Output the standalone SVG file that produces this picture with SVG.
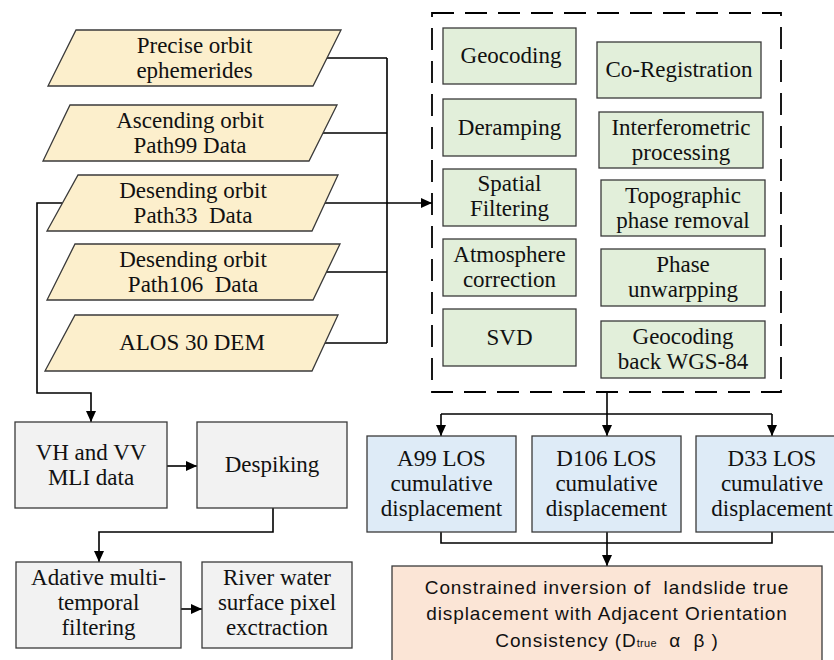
<svg xmlns="http://www.w3.org/2000/svg" width="834" height="660" viewBox="0 0 834 660">
<defs>
<marker id="ah" markerWidth="11" markerHeight="10" refX="11" refY="5" orient="auto" markerUnits="userSpaceOnUse">
<path d="M0,0 L11,5 L0,10 z" fill="#000"/>
</marker>
<style>
.t{font-family:"Liberation Serif","Times New Roman",serif;font-size:23px;fill:#111;text-anchor:middle}
.s{font-family:"Liberation Sans",Arial,sans-serif;font-size:19px;letter-spacing:0.9px;fill:#111;text-anchor:middle}
.par{fill:#FCEFCC;stroke:#3a3a3a;stroke-width:1.3}
.grn{fill:#E2EFDA;stroke:#3a3a3a;stroke-width:1.3}
.gry{fill:#F2F2F2;stroke:#3a3a3a;stroke-width:1.3}
.blu{fill:#DEEBF7;stroke:#3a3a3a;stroke-width:1.3}
.org{fill:#FBE5D6;stroke:#3a3a3a;stroke-width:1.3}
.c{fill:none;stroke:#000;stroke-width:1.6}
.a{fill:none;stroke:#000;stroke-width:1.6;marker-end:url(#ah)}
</style>
</defs>
<rect width="834" height="660" fill="#fff"/>

<g id="processing-box">
<rect x="432" y="13" width="349" height="379" fill="none" stroke="#000" stroke-width="1.8" stroke-dasharray="22,11"/>
</g>

<g id="connectors">
<path class="c" d="M327,58 H387 M323,133 H387 M326,272 H387 M325,343 H387 M387,58 V343"/>
<path class="a" d="M325,203 H432"/>
<path class="a" d="M62,203 H37 V393 H91 V422"/>
<path class="a" d="M167,466 H197"/>
<path class="a" d="M273,508 V532 H99 V562"/>
<path class="a" d="M181,609 H202"/>
<path class="a" d="M607,392 V436"/>
<path class="c" d="M441,414 H772"/>
<path class="a" d="M441,414 V436"/>
<path class="a" d="M772,414 V436"/>
<path class="c" d="M441,532 V543 H772 V532"/>
<path class="a" d="M607,532 V566"/>
</g>

<g id="n-precise">
<polygon class="par" points="76,30 341,30 313,86 48,86"/>
<text class="t" x="194.5" y="52.5">Precise orbit</text>
<text class="t" x="194.5" y="77.5">ephemerides</text>
</g>
<g id="n-path99">
<polygon class="par" points="70,105 337,105 309,161 43,161"/>
<text class="t" x="190" y="127.5">Ascending orbit</text>
<text class="t" x="190" y="152.5">Path99 Data</text>
</g>
<g id="n-path33">
<polygon class="par" points="78,175 338,175 312,231 47,231"/>
<text class="t" x="193" y="197.5">Desending orbit</text>
<text class="t" x="193" y="222.5" xml:space="preserve">Path33  Data</text>
</g>
<g id="n-path106">
<polygon class="par" points="75,244 340,244 313,300 47,300"/>
<text class="t" x="193" y="266.5">Desending orbit</text>
<text class="t" x="193" y="291.5" xml:space="preserve">Path106  Data</text>
</g>
<g id="n-dem">
<polygon class="par" points="75,315 338,315 312,371 45,371"/>
<text class="t" x="192" y="350">ALOS 30 DEM</text>
</g>

<g id="n-geocoding">
<rect class="grn" x="443" y="28" width="133" height="56"/>
<text class="t" x="511" y="63">Geocoding</text>
</g>
<g id="n-deramping">
<rect class="grn" x="443" y="99" width="133" height="57"/>
<text class="t" x="509.5" y="134.5">Deramping</text>
</g>
<g id="n-spatial">
<rect class="grn" x="443" y="169" width="133" height="57"/>
<text class="t" x="509.5" y="191">Spatial</text>
<text class="t" x="509.5" y="216">Filtering</text>
</g>
<g id="n-atmosphere">
<rect class="grn" x="443" y="239" width="133" height="57"/>
<text class="t" x="509.5" y="261.5">Atmosphere</text>
<text class="t" x="509.5" y="286.5">correction</text>
</g>
<g id="n-svd">
<rect class="grn" x="443" y="309" width="133" height="57"/>
<text class="t" x="509.5" y="344.5">SVD</text>
</g>

<g id="n-coreg">
<rect class="grn" x="597" y="42" width="164" height="56"/>
<text class="t" x="679" y="77">Co-Registration</text>
</g>
<g id="n-interf">
<rect class="grn" x="599" y="112" width="164" height="56"/>
<text class="t" x="681" y="134.5">Interferometric</text>
<text class="t" x="681" y="159.5">processing</text>
</g>
<g id="n-topo">
<rect class="grn" x="601" y="180" width="164" height="56"/>
<text class="t" x="683" y="202.5">Topographic</text>
<text class="t" x="683" y="227.5">phase removal</text>
</g>
<g id="n-unwrap">
<rect class="grn" x="601" y="249" width="164" height="57"/>
<text class="t" x="683" y="272">Phase</text>
<text class="t" x="683" y="297">unwarpping</text>
</g>
<g id="n-geoback">
<rect class="grn" x="601" y="321" width="164" height="57"/>
<text class="t" x="683" y="344">Geocoding</text>
<text class="t" x="683" y="369">back WGS-84</text>
</g>

<g id="n-mli">
<rect class="gry" x="15" y="422" width="152" height="86"/>
<text class="t" x="91" y="460">VH and VV</text>
<text class="t" x="91" y="484.5">MLI data</text>
</g>
<g id="n-despiking">
<rect class="gry" x="197" y="422" width="150" height="86"/>
<text class="t" x="272" y="472">Despiking</text>
</g>
<g id="n-adaptive">
<rect class="gry" x="16" y="562" width="165" height="86"/>
<text class="t" x="98.5" y="585">Adative multi-</text>
<text class="t" x="98.5" y="610">temporal</text>
<text class="t" x="98.5" y="635">filtering</text>
</g>
<g id="n-river">
<rect class="gry" x="202" y="562" width="150" height="86"/>
<text class="t" x="277" y="585">River water</text>
<text class="t" x="277" y="610">surface pixel</text>
<text class="t" x="277" y="635">exctraction</text>
</g>

<g id="n-a99">
<rect class="blu" x="367" y="436" width="149" height="96"/>
<text class="t" x="441.5" y="466">A99 LOS</text>
<text class="t" x="441.5" y="491">cumulative</text>
<text class="t" x="441.5" y="516">displacement</text>
</g>
<g id="n-d106">
<rect class="blu" x="532" y="436" width="149" height="96"/>
<text class="t" x="606.5" y="466">D106 LOS</text>
<text class="t" x="606.5" y="491">cumulative</text>
<text class="t" x="606.5" y="516">displacement</text>
</g>
<g id="n-d33">
<rect class="blu" x="696" y="436" width="150" height="96"/>
<text class="t" x="772" y="466">D33 LOS</text>
<text class="t" x="772" y="491">cumulative</text>
<text class="t" x="772" y="516">displacement</text>
</g>

<g id="n-inversion">
<rect class="org" x="392" y="566" width="430" height="110"/>
<text class="s" x="607" y="594" xml:space="preserve">Constrained inversion of  landslide true</text>
<text class="s" x="607" y="620">displacement with Adjacent Orientation</text>
<text class="s" x="607" y="647" xml:space="preserve">Consistency (D<tspan font-size="11" letter-spacing="0.3">true</tspan>  α  β )</text>
</g>
</svg>
